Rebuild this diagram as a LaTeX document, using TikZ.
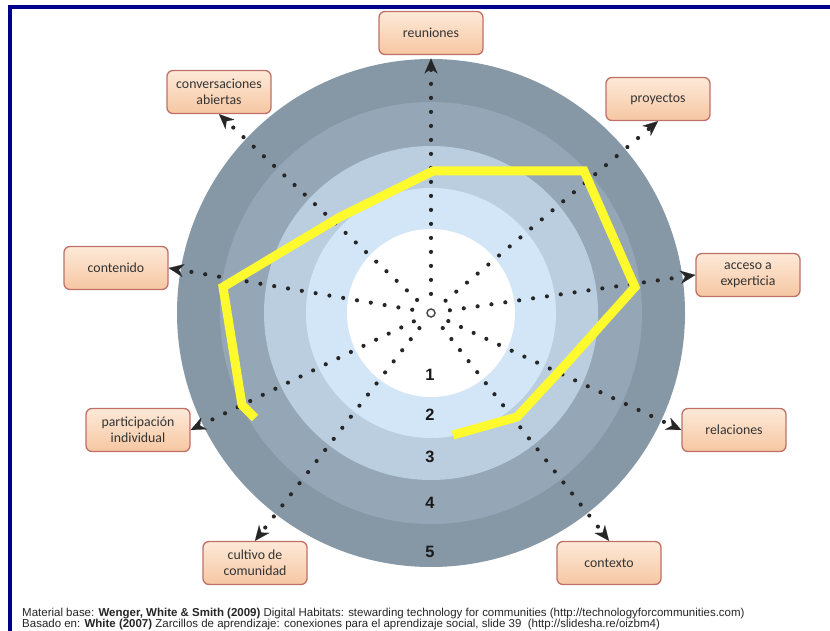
\documentclass[tikz,border=0pt]{standalone}
\usepackage{fontspec}
\setmainfont{Carlito}
\newfontfamily\footfont{Liberation Sans}
\usepackage{xcolor}
\usetikzlibrary{arrows.meta, positioning}

\definecolor{ringfive}{RGB}{134,151,165}
\definecolor{ringfour}{RGB}{149,167,182}
\definecolor{ringthree}{RGB}{186,206,224}
\definecolor{ringtwo}{RGB}{211,230,247}
\definecolor{boxtop}{RGB}{253,233,216}
\definecolor{boxbottom}{RGB}{246,199,162}
\definecolor{boxline}{RGB}{192,112,104}
\definecolor{frameblue}{RGB}{0,0,140}
\definecolor{hilite}{RGB}{255,250,45}

\begin{document}
\begin{tikzpicture}[
        x=0.3mm, y=-0.3mm,
        labelbox/.style = {
            rectangle,
            rounded corners=1.8mm,
            draw=boxline,
            line width=0.4mm,
            top color=boxtop,
            bottom color=boxbottom,
            minimum width=31.2mm,
            minimum height=12.9mm,
            align=center,
            text=black!80,
            font=\fontsize{11.8}{13.4}\selectfont
        },
        axis/.style = {
            draw=black!85,
            line width=1.25mm,
            line cap=round,
            dash pattern=on 0pt off 4.2mm,
            shorten <=4.3mm,
            -{Stealth[length=4.5mm, width=3.9mm, inset=1.4mm, line width=0.1pt]}
        },
        level/.style = {
            font=\footfont\bfseries\fontsize{14}{14}\selectfont,
            text=black!90
        },
        source/.style = {
            anchor=base west,
            inner sep=0pt,
            text=black!85,
            font=\footfont\fontsize{9.8}{11}\selectfont
        }
    ]

    % Frame
    \useasboundingbox (0,0) rectangle (830,631);
    \fill[white] (0,0) rectangle (830,631);
    \fill[frameblue] (8,5) rectangle (830,9);
    \fill[frameblue] (8,5) rectangle (12,631);

    % Rings
    \coordinate (o) at (431,313);
    \fill[ringfive]  (o) circle (254);
    \fill[ringfour]  (o) circle (211);
    \fill[ringthree] (o) circle (167);
    \fill[ringtwo]   (o) circle (125);
    \fill[white]     (o) circle (84);

    % Nodes
    \node[circle, draw=black!70, fill=white, line width=0.45mm, minimum size=2.4mm, inner sep=0pt] (c) at (o) {};
    \node[labelbox] (reun) at (431,33)  {reuniones};
    \node[labelbox] (proy) at (658,99)  {proyectos};
    \node[labelbox] (acce) at (748,275) {acceso a\\experticia};
    \node[labelbox] (rela) at (734,430) {relaciones};
    \node[labelbox] (ctxt) at (609,563) {contexto};
    \node[labelbox] (cult) at (255,563) {cultivo de\\comunidad};
    \node[labelbox] (part) at (138,430) {participación\\individual};
    \node[labelbox] (cont) at (116,268) {contenido};
    \node[labelbox] (conv) at (219,92)  {conversaciones\\abiertas};

    % Arrows
    \draw[axis, shorten >=1mm] (c) -- (reun.south);
    \draw[axis] (c) -- (proy.south);
    \draw[axis] (c) -- (acce.west);
    \draw[axis] (c) -- (rela.west);
    \draw[axis] (c) -- (ctxt.north);
    \draw[axis] (c) -- (cult.north);
    \draw[axis] (c) -- (part.east);
    \draw[axis] (c) -- (cont.east);
    \draw[axis] (c) -- (conv.south);

    % Profile
    \draw[hilite, line width=2.7mm, line join=miter]
        (453,435) -- (517,417) -- (567,363) -- (635,287) -- (584,171)
        -- (433,171) -- (340,217) -- (223,287) -- (242,405) -- (255,418);

    % Levels
    \foreach \n/\y in {1/375, 2/415, 3/457, 4/503, 5/552}
        \node[level] (lv\n) at (430,\y) {\n};

    % Sources
    \node[source] (src1) at (22,616) {Material base: \textbf{Wenger, White \& Smith (2009)} Digital Habitats: stewarding technology for communities (http://technologyforcommunities.com)};
    \node[source] (src2) at (22,627) {Basado en: \textbf{White (2007)} Zarcillos de aprendizaje: conexiones para el aprendizaje social, slide 39\ \ (http://slidesha.re/oizbm4)};

    \end{tikzpicture}
\end{document}
